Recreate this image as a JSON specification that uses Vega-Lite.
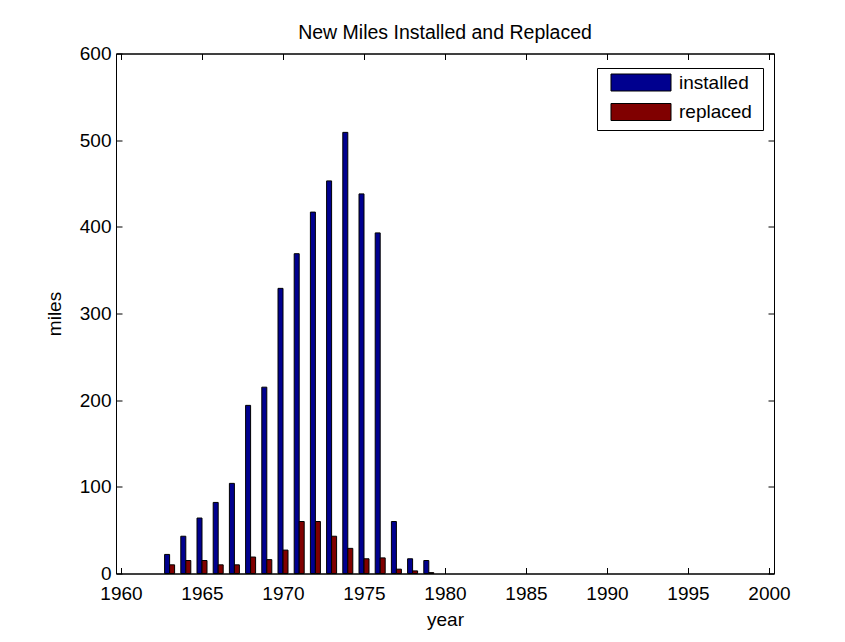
{
  "$schema": "https://vega.github.io/schema/vega-lite/v6.json",
  "width": 658,
  "height": 520,
  "autosize": {"type": "none"},
  "padding": {"left": 116, "top": 53.5, "right": 71, "bottom": 68.5},
  "background": "white",
  "title": {
    "text": "New Miles Installed and Replaced",
    "font": "Liberation Sans",
    "fontSize": 19.5,
    "fontWeight": "normal",
    "color": "black",
    "offset": 1
  },
  "config": {
    "view": {"stroke": "black", "strokeWidth": 1, "fill": "white"},
    "axis": {
      "grid": false,
      "domainColor": "black",
      "tickColor": "black",
      "labelColor": "black",
      "titleColor": "black",
      "labelFont": "Liberation Sans",
      "titleFont": "Liberation Sans",
      "labelFontSize": 19,
      "titleFontSize": 19,
      "titleFontWeight": "normal",
      "tickSize": -6
    }
  },
  "data": {
    "values": [
      {"year": 1963, "series": "installed", "miles": 22},
      {"year": 1964, "series": "installed", "miles": 43},
      {"year": 1965, "series": "installed", "miles": 64},
      {"year": 1966, "series": "installed", "miles": 82},
      {"year": 1967, "series": "installed", "miles": 104},
      {"year": 1968, "series": "installed", "miles": 194},
      {"year": 1969, "series": "installed", "miles": 215},
      {"year": 1970, "series": "installed", "miles": 329},
      {"year": 1971, "series": "installed", "miles": 369},
      {"year": 1972, "series": "installed", "miles": 417},
      {"year": 1973, "series": "installed", "miles": 453},
      {"year": 1974, "series": "installed", "miles": 509},
      {"year": 1975, "series": "installed", "miles": 438},
      {"year": 1976, "series": "installed", "miles": 393},
      {"year": 1977, "series": "installed", "miles": 60},
      {"year": 1978, "series": "installed", "miles": 17},
      {"year": 1979, "series": "installed", "miles": 15},
      {"year": 1963, "series": "replaced", "miles": 10},
      {"year": 1964, "series": "replaced", "miles": 15},
      {"year": 1965, "series": "replaced", "miles": 15},
      {"year": 1966, "series": "replaced", "miles": 10},
      {"year": 1967, "series": "replaced", "miles": 10},
      {"year": 1968, "series": "replaced", "miles": 19},
      {"year": 1969, "series": "replaced", "miles": 16},
      {"year": 1970, "series": "replaced", "miles": 27},
      {"year": 1971, "series": "replaced", "miles": 60},
      {"year": 1972, "series": "replaced", "miles": 60},
      {"year": 1973, "series": "replaced", "miles": 43},
      {"year": 1974, "series": "replaced", "miles": 29},
      {"year": 1975, "series": "replaced", "miles": 17},
      {"year": 1976, "series": "replaced", "miles": 18},
      {"year": 1977, "series": "replaced", "miles": 5},
      {"year": 1978, "series": "replaced", "miles": 3},
      {"year": 1979, "series": "replaced", "miles": 1}
    ]
  },
  "encoding": {
    "color": {
      "field": "series",
      "type": "nominal",
      "scale": {"domain": ["installed", "replaced"], "range": ["#00008F", "#800000"]},
      "legend": {
        "title": null,
        "orient": "none",
        "legendX": 481,
        "legendY": 14.5,
        "direction": "vertical",
        "strokeColor": "black",
        "fillColor": "white",
        "padding": 5,
        "symbolType": "M-0.06,-1H7V1H-0.06Z M17,1.2Z",
        "symbolSize": 289,
        "symbolStrokeColor": "black",
        "symbolStrokeWidth": 1,
        "symbolOpacity": 1,
        "labelFont": "Liberation Sans",
        "labelFontSize": 19,
        "labelColor": "black",
        "labelOffset": 58,
        "rowPadding": 6.5
      }
    },
    "y": {
      "field": "miles",
      "type": "quantitative",
      "scale": {"domain": [0, 600], "nice": false}
    }
  },
  "layer": [
    {
      "transform": [{"filter": "datum.series === 'installed'"}],
      "mark": {"type": "bar", "width": 5, "xOffset": -2.5, "stroke": "black", "strokeWidth": 1},
      "encoding": {
        "x": {
          "field": "year",
          "type": "quantitative",
          "scale": {"domain": [1960, 2000], "nice": false, "zero": false},
          "axis": {
            "orient": "bottom",
            "values": [1960, 1965, 1970, 1975, 1980, 1985, 1990, 1995, 2000],
            "format": "d",
            "labelFlush": false,
            "labelPadding": 16.5,
            "title": "year",
            "titlePadding": 7
          }
        },
        "y": {
          "field": "miles",
          "type": "quantitative",
          "axis": {
            "orient": "left",
            "values": [0, 100, 200, 300, 400, 500, 600],
            "labelFlush": false,
            "labelPadding": 11,
            "title": "miles",
            "titlePadding": 15
          }
        }
      }
    },
    {
      "transform": [{"filter": "datum.series === 'replaced'"}],
      "mark": {"type": "bar", "width": 5, "xOffset": 2.5, "stroke": "black", "strokeWidth": 1},
      "encoding": {
        "x": {
          "field": "year",
          "type": "quantitative",
          "axis": {
            "orient": "top",
            "values": [1960, 1965, 1970, 1975, 1980, 1985, 1990, 1995, 2000],
            "labels": false,
            "title": null
          }
        },
        "y": {
          "field": "miles",
          "type": "quantitative",
          "axis": {
            "orient": "right",
            "values": [0, 100, 200, 300, 400, 500, 600],
            "labels": false,
            "title": null
          }
        }
      }
    }
  ],
  "resolve": {"axis": {"x": "independent", "y": "independent"}}
}
